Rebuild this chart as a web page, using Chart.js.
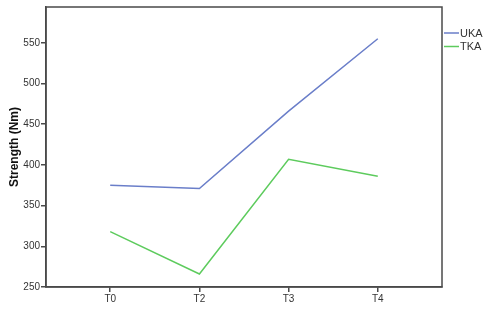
<!DOCTYPE html>
<html>
<head>
<meta charset="utf-8">
<script src="https://cdn.jsdelivr.net/npm/chart.js@4/dist/chart.umd.min.js"></script>
<style>
  body { margin: 0; background: #fff; }
  canvas { display: block; }
</style>
</head>
<body>
<canvas id="strengthChart" width="499" height="316"></canvas>
<script>
const timepoints = ["T0", "T2", "T3", "T4"];
const ukaStrength = [375, 371, 466, 555];
const tkaStrength = [318, 266, 407, 386];
const yTicks = [250, 300, 350, 400, 450, 500, 550];

const frameColor = '#4a4a4a';
const textColor = '#333';

// SPSS style: box round the plot and a small legend at the top right
const frameAndLegend = {
    id: 'frameAndLegend',
    afterDraw(chart) {
        const ctx = chart.ctx;
        const a = chart.chartArea;
        ctx.save();
        ctx.strokeStyle = frameColor;
        ctx.lineWidth = 1.5;
        ctx.strokeRect(a.left, a.top, a.right - a.left, a.bottom - a.top);

        ctx.font = '11px "Liberation Sans", Arial, sans-serif';
        ctx.textBaseline = 'middle';
        chart.data.datasets.forEach((ds, i) => {
            const y = 33 + i * 13.5;
            ctx.strokeStyle = ds.borderColor;
            ctx.lineWidth = 1.5;
            ctx.beginPath();
            ctx.moveTo(a.right + 2, y);
            ctx.lineTo(a.right + 17, y);
            ctx.stroke();
            ctx.fillStyle = textColor;
            ctx.fillText(ds.label, a.right + 18, y + 0.5);
        });
        ctx.restore();
    }
};

const toPoints = vals => vals.map((v, i) => ({ x: i, y: v }));

new Chart(document.getElementById('strengthChart').getContext('2d'), {
    type: 'line',
    data: {
        datasets: [
            {
                label: 'UKA',
                data: toPoints(ukaStrength),
                borderColor: '#6a7ec9',
                borderWidth: 1.5,
                pointRadius: 0,
                tension: 0
            },
            {
                label: 'TKA',
                data: toPoints(tkaStrength),
                borderColor: '#5dcb5d',
                borderWidth: 1.5,
                pointRadius: 0,
                tension: 0
            }
        ]
    },
    options: {
        responsive: false,
        animation: false,
        layout: { padding: { top: 6, right: 57, left: 0, bottom: 0 } },
        plugins: {
            legend: { display: false },
            tooltip: { enabled: false }
        },
        scales: {
            x: {
                type: 'linear',
                min: -0.72,
                max: 3.72,
                afterBuildTicks: axis => { axis.ticks = timepoints.map((_, i) => ({ value: i })); },
                afterFit: axis => { axis.height = 29; },
                border: { color: frameColor, width: 1.5 },
                grid: { drawOnChartArea: false, drawTicks: true, tickLength: 5, color: frameColor, lineWidth: 1.5 },
                ticks: {
                    padding: 1,
                    maxRotation: 0,
                    color: textColor,
                    font: { family: '"Liberation Sans", Arial, sans-serif', size: 10 },
                    callback: v => timepoints[v]
                }
            },
            y: {
                min: 250,
                max: 594,
                afterBuildTicks: axis => { axis.ticks = yTicks.map(v => ({ value: v })); },
                afterFit: axis => { axis.width = 46; },
                border: { color: frameColor, width: 1.5 },
                grid: { drawOnChartArea: false, drawTicks: true, tickLength: 5, color: frameColor, lineWidth: 1.5 },
                ticks: {
                    padding: 1,
                    color: textColor,
                    font: { family: '"Liberation Sans", Arial, sans-serif', size: 10 }
                },
                title: {
                    display: true,
                    text: 'Strength (Nm)',
                    color: '#111',
                    padding: { top: 7, bottom: 0 },
                    font: { family: '"Liberation Sans", Arial, sans-serif', size: 12, weight: 'bold' }
                }
            }
        }
    },
    plugins: [frameAndLegend]
});
</script>
</body>
</html>
